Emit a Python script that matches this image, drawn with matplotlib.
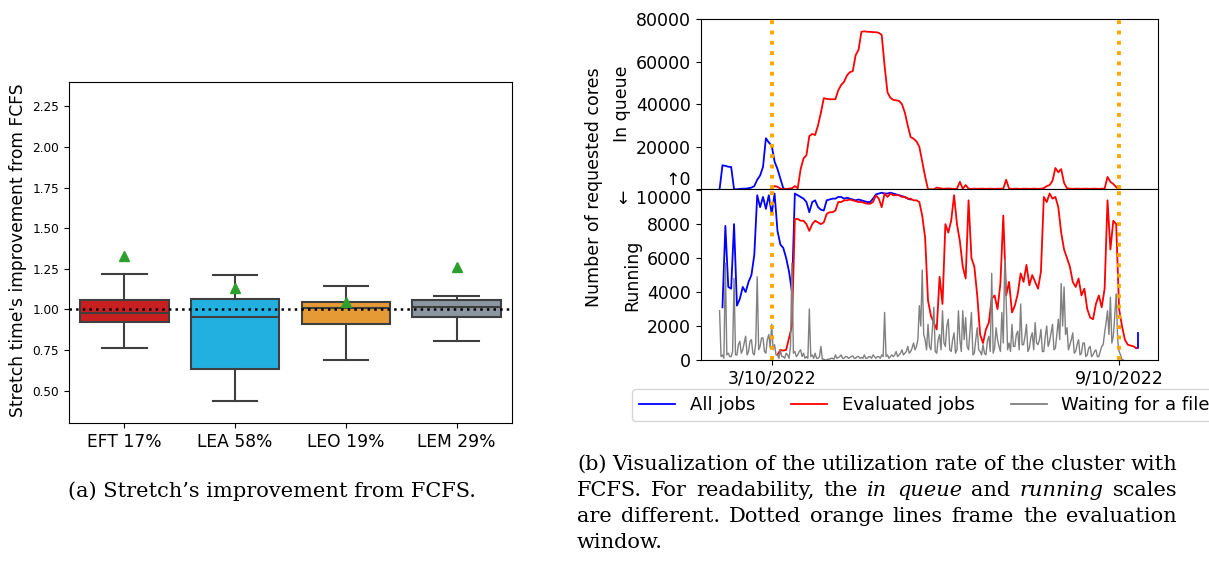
"""
Stretch improvement boxes + cluster utilisation with FCFS
"""
import numpy as np
import matplotlib
matplotlib.use('Agg')
import matplotlib.pyplot as plt
from matplotlib.lines import Line2D

W, H = 1209, 566

# ---- (a) stretch improvement boxes ----
heuristics = ['EFT 17%', 'LEA 58%', 'LEO 19%', 'LEM 29%']
box_colors = ['#c82020', '#22b0e0', '#e59a35', '#8c96a0']
q1 = [0.92, 0.635, 0.91, 0.95]
median = [0.98, 0.95, 1.01, 1.015]
q3 = [1.06, 1.065, 1.045, 1.055]
whisk_lo = [0.76, 0.435, 0.685, 0.805]
whisk_hi = [1.22, 1.21, 1.145, 1.08]
means = [1.33, 1.13, 1.045, 1.26]
stretch_ticks = [0.50, 0.75, 1.00, 1.25, 1.50, 1.75, 2.00, 2.25]

# ---- (b) utilisation, values in thousands of cores ----
# blue/red sampled every 0.05 day, grey every 0.025 day (day 0 = 3/10/2022)
step = 0.05
wait_step = 0.025
queue_all_start = -0.90
queue_all_k = [0, 11.3, 11.0, 10.6, 10.5, 0, 0, 0.2, 0.3, 0.3, 0.5, 0.8, 1.5, 4.5,
               6.5, 10.5, 24.0, 22.0, 20.5, 13.0, 9.5, 5.0, 0.5, 0.0]
queue_eval_start = 0.0
queue_eval_k = [0.5, 1.5, 1.2, 0.3, 0.0, 0.2, 0.3, 0.5, 1.5, 0.5,
                9.5, 14.5, 16.0, 25.0, 26.0, 25.5, 30.0, 36.0, 42.8, 42.5,
                42.3, 42.3, 42.3, 46.5, 49.0, 50.5, 53.5, 55.0, 55.5, 63.0,
                65.5, 74.0, 74.2, 74.0, 74.0, 73.8, 73.8, 73.5, 72.5, 58.0,
                45.5, 43.0, 42.0, 41.8, 41.5, 40.0, 36.0, 30.0, 24.5, 23.8,
                22.5, 20.0, 13.0, 6.0, 0.0, 0.0, 0.0, 0.8, 0.5, 0.3,
                0.3, 0.4, 0.3, 0.2, 0.3, 3.5, 0.3, 2.0, 0.3, 0.2,
                0.3, 0.2, 0.3, 0.3, 0.2, 0.3, 0.3, 0.2, 0.3, 0.3,
                0.3, 4.5, 0.3, 0.2, 0.3, 0.3, 0.2, 0.3, 0.3, 0.2,
                0.3, 0.3, 0.2, 0.3, 0.5, 1.5, 2.0, 4.0, 10.0, 8.0,
                9.5, 3.0, 0.5, 0.3, 0.2, 0.3, 0.3, 0.2, 0.3, 0.3,
                0.2, 0.3, 0.3, 0.2, 0.3, 0.3, 5.8, 3.5, 2.5, 1.0,
                0.0]
run_all_start = -0.85
run_all_k = [3.1, 7.9, 4.3, 4.2, 8.0, 3.2, 3.6, 4.3, 4.0, 4.6,
             5.0, 6.2, 9.7, 9.0, 9.6, 8.9, 9.7, 8.6, 9.8, 7.6,
             6.8, 6.6, 6.0, 5.2, 4.0, 9.8, 9.7, 9.6, 9.5, 9.3,
             8.7, 9.3, 9.4, 9.0, 8.85, 8.8, 9.4, 9.45, 9.5, 9.5,
             9.6, 9.6, 9.5, 9.55, 9.5, 9.45, 9.4, 9.45, 9.4, 9.35,
             9.3, 9.3, 9.5, 9.75, 9.8, 9.85, 9.8, 9.8, 9.85, 9.8,
             9.75, 9.7, 9.65, 9.6, 9.5, 9.45]
run_all_tail_t = [6.30, 6.33, 6.33]
run_all_tail_k = [0.7, 0.7, 1.57]
run_eval_start = 0.10
run_eval_k = [0.3, 0.6, 0.55, 0.6, 1.3, 2.0, 8.3, 8.3, 8.2, 8.2,
              8.0, 7.6, 8.0, 8.2, 8.1, 8.0, 8.1, 8.6, 8.7, 8.7,
              8.8, 9.3, 9.3, 9.4, 9.4, 9.45, 9.4, 9.35, 9.3, 9.3,
              9.25, 9.2, 9.2, 9.3, 9.7, 9.5, 9.0, 9.8, 9.6, 9.8,
              9.7, 9.7, 9.7, 9.6, 9.6, 9.5, 9.5, 9.4, 9.4, 9.3,
              8.5, 7.2, 3.5, 2.6, 2.2, 1.8, 4.9, 3.3, 8.0, 7.5,
              8.2, 9.7, 8.0, 7.0, 5.5, 4.8, 9.4, 6.0, 5.5, 3.8,
              1.5, 1.0, 1.8, 2.2, 3.6, 3.8, 3.0, 4.5, 8.5, 3.8,
              4.6, 2.8, 3.2, 3.9, 5.1, 4.6, 5.6, 4.4, 5.0, 4.6,
              4.2, 5.2, 9.6, 9.3, 9.8, 9.5, 9.6, 9.0, 7.5, 6.5,
              6.0, 5.5, 4.6, 4.3, 4.8, 3.8, 4.2, 3.0, 2.5, 2.4,
              3.3, 3.8, 3.1, 4.2, 9.4, 6.5, 8.2, 8.0, 3.0, 2.0,
              1.2, 0.9, 0.85, 0.8, 0.7]
wait_start = -0.90
wait_k = [2.9, 0.2, 0.3, 0.1, 5.7, 0.3, 0.4, 0.2, 0.2, 0.5, 4.8, 0.3, 0.3, 0.9, 1.1, 0.4, 0.6, 1.0, 1.4, 0.3,
          0.5, 1.1, 1.2, 0.4, 0.3, 1.0, 4.9, 0.6, 0.8, 1.3, 1.3, 0.5, 0.4, 1.2, 1.5, 0.7, 2.1, 0.6, 0.9, 0.3,
          0.3, 0.1, 0.6, 0.2, 0.2, 0.1, 0.4, 0.3, 0.1, 0.8, 5.7, 0.4, 0.5, 0.2, 0.3, 0.5, 0.6, 0.2, 0.4, 0.1,
          0.2, 0.1, 3.0, 0.2, 0.3, 0.1, 0.4, 0.1, 0.1, 0.2, 0.8, 0.05, 0.05, 0.0, 0.0, 0.05, 0.05, 0.1, 0.1, 0.05,
          0.3, 0.1, 0.15, 0.2, 0.3, 0.1, 0.1, 0.2, 0.2, 0.1, 0.15, 0.2, 0.25, 0.1, 0.1, 0.2, 0.2, 0.1, 0.15, 0.1,
          0.3, 0.1, 0.1, 0.2, 0.2, 0.1, 0.3, 0.2, 0.1, 0.2, 0.2, 0.1, 0.3, 0.2, 2.8, 0.2, 0.3, 0.1, 0.2, 0.3,
          0.2, 0.3, 0.5, 0.2, 0.3, 0.4, 0.6, 0.3, 0.4, 0.5, 0.8, 0.4, 0.5, 0.7, 1.0, 0.6, 0.8, 1.2, 3.2, 2.0,
          5.3, 1.5, 1.2, 0.6, 2.1, 0.8, 0.6, 1.8, 3.1, 0.5, 0.4, 1.2, 1.5, 0.6, 2.9, 1.0, 0.8, 2.0, 2.4, 0.6,
          0.5, 1.2, 1.6, 0.4, 0.6, 2.9, 1.2, 0.5, 2.9, 1.2, 2.5, 0.8, 0.6, 1.7, 2.8, 0.3, 0.4, 1.2, 1.9, 0.6,
          0.5, 0.3, 0.9, 0.4, 0.3, 1.1, 1.4, 0.5, 5.1, 0.4, 0.7, 1.9, 1.2, 0.8, 0.5, 2.8, 1.0, 5.9, 3.5, 0.6,
          1.0, 0.5, 2.1, 0.8, 0.8, 1.5, 1.7, 0.6, 3.3, 0.9, 0.9, 1.4, 2.1, 0.5, 0.7, 1.3, 1.6, 0.6, 2.2, 1.0,
          0.9, 1.2, 1.8, 0.5, 0.5, 1.4, 2.0, 0.8, 1.1, 1.6, 2.1, 0.6, 0.7, 1.5, 2.4, 1.2, 4.5, 2.0, 4.3, 1.5,
          1.9, 0.6, 0.9, 1.2, 1.6, 0.4, 0.5, 0.9, 1.2, 0.3, 0.4, 1.0, 1.0, 0.2, 0.3, 0.7, 0.8, 0.2, 0.3, 0.5,
          0.6, 0.2, 0.2, 0.5, 0.8, 0.9, 1.6, 2.2, 2.9, 1.5, 3.7, 1.0, 1.4, 2.6, 3.9, 1.2, 0.5, 0.3, 0.0, 0.0]
window_days = [0, 6]
date_labels = ['3/10/2022', '9/10/2022']
queue_ticks = [0, 20000, 40000, 60000, 80000]
run_ticks = [0, 2000, 4000, 6000, 8000, 10000]


def series(start, vals, dt=step):
    t = start + dt * np.arange(len(vals))
    return t, np.array(vals) * 1000


def fx(px):
    return px / W


def fy(py):
    return 1 - py / H


fig = plt.figure(figsize=(W / 100, H / 100), dpi=100)

# ---------- left: box plot ----------
ax = fig.add_axes([fx(69), fy(423), fx(512 - 69), (423 - 82) / H])
stats = []
for i in range(len(heuristics)):
    stats.append(dict(q1=q1[i], med=median[i], q3=q3[i], whislo=whisk_lo[i],
                      whishi=whisk_hi[i], mean=means[i], fliers=[]))
edge = '#3f3f3f'
bp = ax.bxp(stats, positions=range(len(heuristics)), widths=0.8, capwidths=0.4,
            patch_artist=True, showmeans=True,
            boxprops=dict(edgecolor=edge, linewidth=1.5),
            whiskerprops=dict(color=edge, linewidth=1.5),
            capprops=dict(color=edge, linewidth=1.5),
            medianprops=dict(color=edge, linewidth=1.5),
            meanprops=dict(marker='^', markerfacecolor='#2ca02c',
                           markeredgecolor='#2ca02c', markersize=7))
for patch, c in zip(bp['boxes'], box_colors):
    patch.set_facecolor(c)
ax.axhline(1.0, color='black', linestyle=':', linewidth=1.8, zorder=5)
ax.set_xlim(-0.5, 3.5)
ax.set_ylim(0.30, 2.40)
ax.set_yticks(stretch_ticks)
ax.set_yticklabels([f'{v:.2f}' for v in stretch_ticks], fontsize=8.7)
ax.set_xticks(range(len(heuristics)))
ax.set_xticklabels(heuristics, fontsize=12.3)
fig.text(fx(18), fy(250), "Stretch time's improvement from FCFS", rotation=90,
         ha='center', va='center', fontsize=12.3)

# ---------- right: queue / running ----------
ax_q = fig.add_axes([fx(700.7), fy(189.3), fx(1158 - 700.7), (189.3 - 19) / H])
ax_r = fig.add_axes([fx(700.7), fy(360), fx(1158 - 700.7), (360 - 189.3) / H])

blue, red, grey = '#0000ff', '#ff0000', '#808080'
t, v = series(queue_all_start, queue_all_k)
ax_q.plot(t, v, color=blue, lw=1.3)
t, v = series(queue_eval_start, queue_eval_k)
ax_q.plot(t, v, color=red, lw=1.3)

t, v = series(run_all_start, run_all_k)
ax_r.plot(t, v, color=blue, lw=1.3)
ax_r.plot(run_all_tail_t, np.array(run_all_tail_k) * 1000, color=blue, lw=1.3)
t, v = series(run_eval_start, run_eval_k)
ax_r.plot(t, v, color=red, lw=1.3)
t, v = series(wait_start, wait_k, wait_step)
ax_r.plot(t, v, color=grey, lw=1.0)

for a in (ax_q, ax_r):
    for d in window_days:
        a.axvline(d, color='#ffa500', linestyle=':', linewidth=2.8, zorder=6)
    a.set_xlim(-1.226, 6.672)

ax_q.set_ylim(0, 80000)
ax_q.set_yticks(queue_ticks)
ax_q.set_yticklabels(['\u21910'] + [str(v) for v in queue_ticks[1:]], fontsize=12.5)
ax_q.get_yticklabels()[0].set_verticalalignment('bottom')
ax_q.set_xticks([])

ax_r.set_ylim(0, 10050)
ax_r.set_yticks(run_ticks)
ax_r.set_yticklabels([str(v) for v in run_ticks[:-1]] + ['\u2193 10000'], fontsize=12.5)
ax_r.get_yticklabels()[-1].set_verticalalignment('top')
ax_r.set_xticks(window_days)
ax_r.set_xticklabels(date_labels, fontsize=12.5)

fig.text(fx(594), fy(187), 'Number of requested cores', rotation=90,
         ha='center', va='center', fontsize=12.5)
fig.text(fx(622), fy(104), 'In queue', rotation=90, ha='center', va='center', fontsize=12.5)
fig.text(fx(632), fy(275), 'Running', rotation=90, ha='center', va='center', fontsize=12.5)

handles = [Line2D([], [], color=blue, lw=1.3), Line2D([], [], color=red, lw=1.3),
           Line2D([], [], color=grey, lw=1.3)]
fig.legend(handles, ['All jobs', 'Evaluated jobs', 'Waiting for a file'],
           loc='upper left', bbox_to_anchor=(fx(632), fy(389)), ncol=3,
           fontsize=13, columnspacing=2.0, borderaxespad=0, fancybox=True)

# ---------- captions ----------
serif = 'DejaVu Serif'
cap_size = 15
fig.text(fx(272), fy(491), "(a) Stretch\u2019s improvement from FCFS.", ha='center',
         va='center', family=serif, fontsize=cap_size)

caption_b = [
    [('(b)', 'normal'), ('Visualization', 'normal'), ('of', 'normal'), ('the', 'normal'),
     ('utilization', 'normal'), ('rate', 'normal'), ('of', 'normal'), ('the', 'normal'),
     ('cluster', 'normal'), ('with', 'normal')],
    [('FCFS.', 'normal'), ('For', 'normal'), ('readability,', 'normal'), ('the', 'normal'),
     ('in', 'italic'), ('queue', 'italic'), ('and', 'normal'), ('running', 'italic'),
     ('scales', 'normal')],
    [('are', 'normal'), ('different.', 'normal'), ('Dotted', 'normal'), ('orange', 'normal'),
     ('lines', 'normal'), ('frame', 'normal'), ('the', 'normal'), ('evaluation', 'normal')],
    [('window.', 'normal')],
]
x_left, x_right = 577, 1177
line_y = [464, 490, 516, 542]
renderer = fig.canvas.get_renderer()
for words, y in zip(caption_b, line_y):
    arts = [fig.text(fx(x_left), fy(y), w, style=s, family=serif, fontsize=cap_size,
                     va='center', ha='left') for w, s in words]
    if len(arts) < 2:
        continue
    widths = [a.get_window_extent(renderer).width for a in arts]
    gap = (x_right - x_left - sum(widths)) / (len(arts) - 1)
    x = x_left
    for a, w in zip(arts, widths):
        a.set_x(fx(x))
        x += w + gap

fig.savefig('out.png', dpi=100)
